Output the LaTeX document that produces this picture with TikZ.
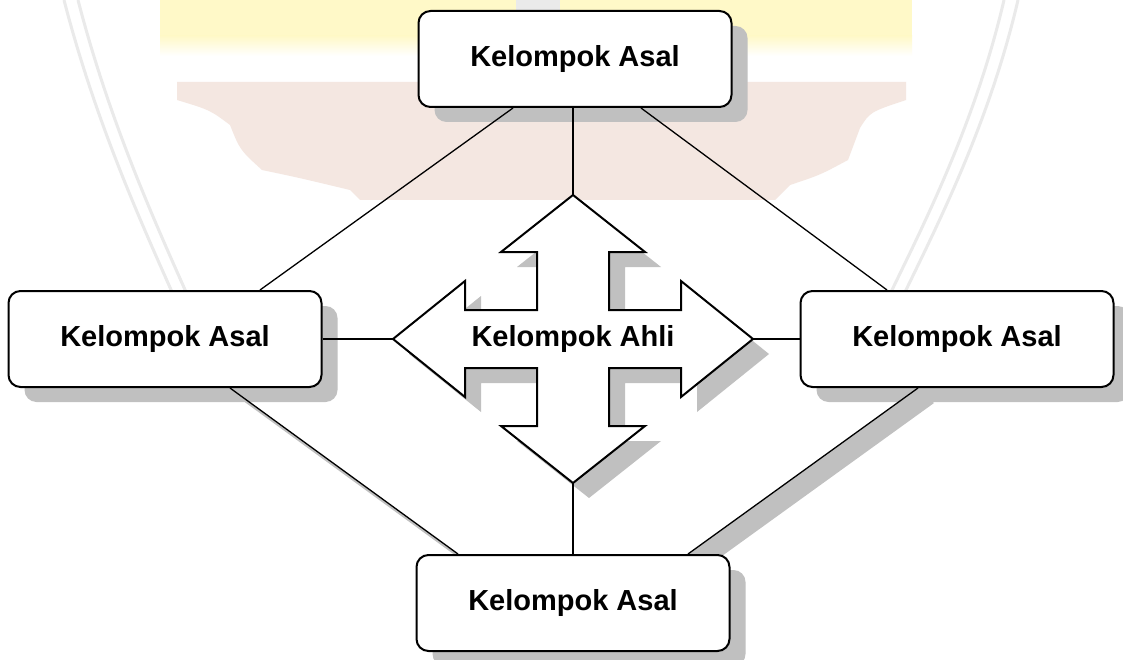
\documentclass[tikz,border=0pt]{standalone}
\usepackage{fontspec}
\setmainfont{Liberation Sans}
\usetikzlibrary{shadows}
\definecolor{shadowgray}{HTML}{C0C0C0}
\definecolor{wmyellow}{HTML}{FFF9C8}
\definecolor{wmbrown}{HTML}{F4E7E1}
\definecolor{wmgray}{HTML}{EAEAEA}
\pgfdeclarelayer{background}
\pgfsetlayers{background,main}
\begin{document}
\begin{tikzpicture}[x=1pt,y=-1pt,
  boxstyle/.style={draw=black, line width=2pt, fill=white, rounded corners=12pt,
    minimum width=313pt, minimum height=96pt, inner sep=0pt,
    font=\fontsize{29}{34}\selectfont\bfseries,
    general shadow={shadow xshift=16pt, shadow yshift=-15pt, fill=shadowgray}},
  link/.style={draw=black, line width=1.3pt},
  linkshadow/.style={fill=shadowgray},
  arrowshape/.style={draw=black, line width=2pt, fill=white, line join=miter,
    general shadow={shadow xshift=16pt, shadow yshift=-15pt, fill=shadowgray}},
  labeltext/.style={font=\fontsize{29}{34}\selectfont\bfseries},
  wmarc/.style={draw=wmgray, line width=3pt}
]
\useasboundingbox (0,0) rectangle (1123,660);

% faint watermark
\begin{pgfonlayer}{background}
  \fill[white] (0,0) rectangle (1123,660);
  \fill[wmyellow] (160,0) rectangle (912,36);
  \shade[top color=wmyellow, bottom color=white] (160,36) rectangle (912,56);
  \fill[wmgray] (516,0) rectangle (560,10);
  \fill[wmbrown] (177,82) -- (906,82) -- (906,100)
    .. controls (870,112) .. (860,128) -- (848,160)
    .. controls (820,175) .. (790,185) -- (775,200) -- (360,200)
    -- (350,190) .. controls (300,178) .. (262,170)
    .. controls (240,150) .. (230,125)
    .. controls (210,110) .. (177,100) -- cycle;
  \draw[wmarc] (64,0) .. controls (95,120) and (140,220) .. (172,292);
  \draw[wmarc] (78,0) .. controls (109,120) and (154,220) .. (186,292);
  \draw[wmarc] (1018,0) .. controls (990,120) and (940,220) .. (905,292);
  \draw[wmarc] (1004,0) .. controls (976,120) and (926,220) .. (891,292);
\end{pgfonlayer}

% boxes
\node[boxstyle] (ka-top) at (575,59) {Kelompok Asal};
\node[boxstyle] (ka-left) at (165,339) {Kelompok Asal};
\node[boxstyle] (ka-right) at (957,339) {Kelompok Asal};
\node[boxstyle] (ka-bot) at (573,603) {Kelompok Asal};

% four-way arrow
\begin{scope}[shift={(573,339)}]
  \coordinate (tipN) at (0,-144);
  \coordinate (tipS) at (0,144);
  \coordinate (tipW) at (-180,0);
  \coordinate (tipE) at (180,0);
  \path[arrowshape] (tipN) -- (72,-87) -- (36,-87) -- (36,-29) -- (108,-29)
    -- (108,-58) -- (tipE) -- (108,58) -- (108,29) -- (36,29) -- (36,87)
    -- (72,87) -- (tipS) -- (-72,87) -- (-36,87) -- (-36,29) -- (-108,29)
    -- (-108,58) -- (tipW) -- (-108,-58) -- (-108,-29) -- (-36,-29)
    -- (-36,-87) -- (-72,-87) -- cycle;
  \node[labeltext] (ahli) at (0,0) {Kelompok Ahli};
\end{scope}

% connector shadows
\begin{pgfonlayer}{background}
  \fill[linkshadow] ([xshift=65pt]ka-left.south) -- ([xshift=-115pt]ka-bot.north)
    -- ([xshift=-99pt,yshift=-15pt]ka-bot.north)
    -- ([xshift=81pt,yshift=-15pt]ka-left.south) -- cycle;
  \fill[linkshadow] ([xshift=-39pt]ka-right.south) -- ([xshift=115pt]ka-bot.north)
    -- ([xshift=131pt,yshift=-15pt]ka-bot.north)
    -- ([xshift=-23pt,yshift=-15pt]ka-right.south) -- cycle;
\end{pgfonlayer}

% connectors
\draw[link] ([xshift=-62pt]ka-top.south) -- ([xshift=95pt]ka-left.north);
\draw[link] ([xshift=66pt]ka-top.south) -- ([xshift=-70pt]ka-right.north);
\draw[link] ([xshift=65pt]ka-left.south) -- ([xshift=-115pt]ka-bot.north);
\draw[link] ([xshift=-39pt]ka-right.south) -- ([xshift=115pt]ka-bot.north);
\draw[link] (tipN |- ka-top.south) -- (tipN);
\draw[link] (tipS) -- (tipS |- ka-bot.north);
\draw[link] (ka-left.east) -- (tipW);
\draw[link] (tipE) -- (ka-right.west);
\end{tikzpicture}
\end{document}
